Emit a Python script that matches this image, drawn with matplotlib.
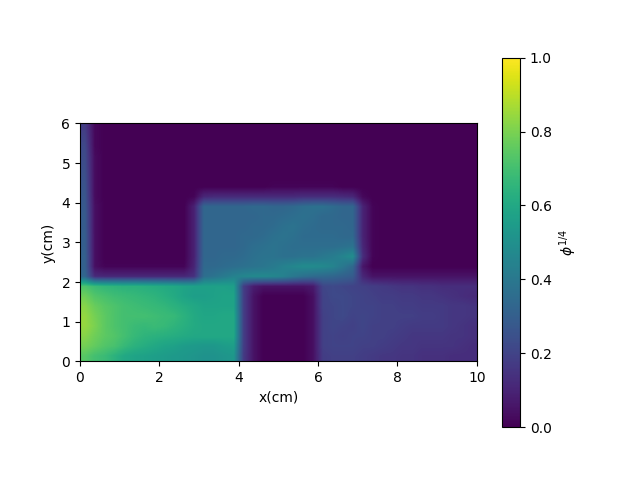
import numpy as np
import matplotlib
matplotlib.use("Agg")
import matplotlib.pyplot as plt

# Field values in hundredths, rows from y=5.875 down to y=0.125, 0.25 cm cells
phi_rows = [
 [18,2,0,0,0,0,0,0,0,0, 0,0,0,0,0,0,0,0,0,0, 0,0,0,0,0,0,0,0,0,0, 0,0,0,0,0,0,0,0,0,0],
 [20,2,0,0,0,0,0,0,0,0, 0,0,0,0,0,0,0,0,0,0, 0,0,0,0,0,0,0,0,0,0, 0,0,0,0,0,0,0,0,0,0],
 [22,2,0,0,0,0,0,0,0,0, 0,0,0,0,0,0,0,0,0,0, 0,0,0,0,0,0,0,0,0,0, 0,0,0,0,0,0,0,0,0,0],
 [23,3,0,0,0,0,0,0,0,0, 0,0,0,0,0,0,0,0,0,0, 0,0,0,0,0,0,0,0,0,0, 0,0,0,0,0,0,0,0,0,0],
 [24,3,0,0,0,0,0,0,0,0, 0,0,0,0,0,0,0,0,0,0, 0,0,0,0,0,0,0,0,0,0, 0,0,0,0,0,0,0,0,0,0],
 [25,3,0,0,0,0,0,0,0,0, 0,0,0,0,0,0,0,0,0,0, 0,0,0,0,0,0,0,0,0,0, 0,0,0,0,0,0,0,0,0,0],
 [26,3,0,0,0,0,0,0,0,0, 0,0,0,0,0,0,0,0,0,1, 1,1,1,1,1,1,0,0,0,0, 0,0,0,0,0,0,0,0,0,0],
 [27,3,0,0,0,0,0,0,0,0, 0,1,11,12,12,12,12,12,12,12, 12,12,13,13,13,13,12,11,2,0, 0,0,0,0,0,0,0,0,0,0],
 [28,4,0,0,0,0,0,0,0,0, 0,9,33,33,33,33,33,34,34,33, 33,34,36,37,37,35,33,33,10,1, 0,0,0,0,0,0,0,0,0,0],
 [29,4,0,0,0,0,0,0,0,0, 0,9,33,33,33,33,33,33,34,34, 35,36,37,36,34,34,33,33,10,1, 0,0,0,0,0,0,0,0,0,0],
 [29,4,0,0,0,0,0,0,0,0, 0,9,33,33,33,33,33,34,34,35, 37,38,36,35,34,34,34,33,10,1, 0,0,0,0,0,0,0,0,0,0],
 [30,4,0,0,0,0,0,0,0,0, 0,9,33,33,33,33,34,34,35,37, 38,37,35,35,35,35,34,34,10,1, 0,0,0,0,0,0,0,0,0,0],
 [30,4,0,0,0,0,0,0,0,0, 0,9,33,33,33,33,34,36,37,38, 37,36,36,36,36,36,37,38,11,1, 0,0,0,0,0,0,0,0,0,0],
 [31,4,0,0,0,0,0,0,0,0, 0,9,33,33,34,34,35,37,38,38, 37,37,38,38,40,42,45,49,13,1, 0,0,0,0,0,0,0,0,0,0],
 [31,4,1,1,1,1,1,1,1,1, 1,10,34,34,35,36,37,38,39,41, 44,46,48,48,47,45,40,34,6,0, 0,0,0,0,0,0,0,0,0,0],
 [33,12,11,11,11,11,11,11,11,11, 11,14,36,38,41,44,46,47,47,46, 44,40,37,35,34,33,31,29,11,5, 5,5,5,5,5,5,5,5,5,5],
 [72,68,66,65,64,64,63,62,61,60, 58,57,57,57,57,56,18,8,5,5, 5,5,5,7,21,22,21,20,19,18, 17,16,15,15,14,14,13,13,13,13],
 [78,73,71,69,68,67,66,65,63,61, 58,56,56,57,58,58,18,5,0,0, 0,0,0,4,20,22,22,21,20,19, 18,18,17,17,16,16,15,14,13,12],
 [82,77,74,72,70,69,68,67,66,64, 62,60,58,58,58,58,18,5,0,0, 0,0,0,4,20,21,22,21,20,20, 19,19,18,18,17,17,17,16,16,15],
 [84,79,75,72,70,70,70,69,68,67, 64,61,59,59,60,60,18,5,0,0, 0,0,0,4,19,21,22,20,21,20, 19,19,19,19,18,18,17,16,16,15],
 [84,80,75,72,70,68,67,68,67,65, 63,61,60,60,60,60,18,5,0,0, 0,0,0,4,19,21,20,19,21,19, 19,19,18,17,17,17,17,16,15,14],
 [82,78,75,73,70,67,65,64,63,62, 61,60,60,60,60,60,18,5,0,0, 0,0,0,4,19,20,19,20,20,19, 19,18,17,16,16,16,16,15,15,14],
 [79,76,73,71,67,64,62,60,58,57, 55,54,53,53,55,56,18,5,0,0, 0,0,0,4,19,20,20,20,19,19, 18,17,16,16,15,15,15,15,14,13],
 [74,70,68,64,60,58,57,56,55,54, 53,52,51,51,52,53,17,5,0,0, 0,0,0,4,18,19,19,19,18,17, 16,16,15,15,14,14,14,13,13,13],
]
x_label = "x(cm)"
y_label = "y(cm)"
cbar_label = r"$\phi^{1/4}$"

phi = np.array(phi_rows) / 100.0

fig, ax = plt.subplots(figsize=(6.4, 4.8), dpi=100)
im = ax.imshow(phi, extent=[0, 10, 0, 6], origin="upper", cmap="viridis",
               vmin=0, vmax=1, interpolation="bilinear")
ax.set_xlabel(x_label)
ax.set_ylabel(y_label)
cb = fig.colorbar(im, ax=ax)
cb.set_label(cbar_label)
fig.savefig("out.png", dpi=100)
